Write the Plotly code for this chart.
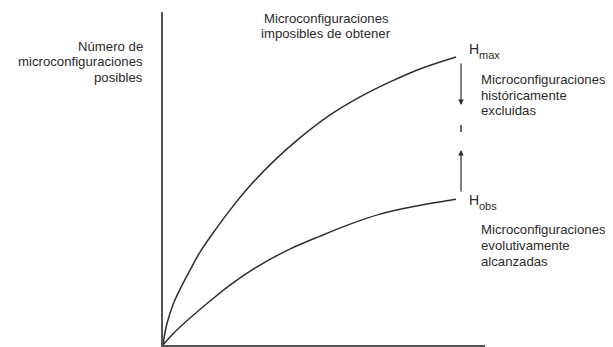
import plotly.graph_objects as go

# Data (arbitrary units, 0-100 on both axes)
x_max = [0, 0.9, 2.2, 3.7, 5.3, 8.4, 11.5, 16.2, 20.8, 27.0, 34.8, 42.5, 51.9, 61.2, 70.5, 79.8, 91.0]
y_max = [0, 5.1, 9.6, 13.5, 16.8, 22.5, 27.9, 34.5, 40.5, 47.8, 55.6, 62.2, 69.1, 74.5, 79.0, 82.9, 86.5]
x_obs = [0, 2.2, 4.3, 8.4, 14.6, 20.8, 30.1, 39.4, 48.8, 58.1, 67.4, 76.7, 91.0]
y_obs = [0, 2.4, 4.5, 8.1, 13.2, 18.0, 24.0, 28.8, 32.7, 36.3, 39.3, 41.4, 43.8]

OFF = 8  # page body margin
W, H = 613 - OFF, 347 - OFF
L, R, T, B = 163 - OFF, 485 - OFF, 12 - OFF, 345 - OFF

def px(x):
    return (x - OFF - L) / (R - L)

def py(y):
    return (B - (y - OFF)) / (B - T)

fig = go.Figure()
line_col = "#2e2e2e"
fig.add_trace(go.Scatter(x=x_max, y=y_max, mode="lines", line=dict(color=line_col, width=1.5, shape="spline"), hoverinfo="skip"))
fig.add_trace(go.Scatter(x=x_obs, y=y_obs, mode="lines", line=dict(color=line_col, width=1.5, shape="spline"), hoverinfo="skip"))

txt = "#2b2b2b"
FAM = "Liberation Sans, Arial, sans-serif"
font = dict(family=FAM, size=13.2, color=txt)
ann = []

def text_block(lines, x, ys, anchor):
    for t, y in zip(lines, ys):
        ann.append(dict(xref="paper", yref="paper", x=px(x), y=py(y), text=t, showarrow=False,
                        xanchor=anchor, yanchor="middle", font=font))

text_block(["Microconfiguraciones", "imposibles de obtener"], 326, [19, 34], "center")
text_block(["Número de", "microconfiguraciones", "posibles"], 145, [46, 62, 78], "right")
text_block(["Microconfiguraciones", "históricamente", "excluidas"], 479, [80, 95, 111], "left")
text_block(["Microconfiguraciones", "evolutivamente", "alcanzadas"], 479, [229, 245, 261], "left")

def hlabel(sub, y):
    ann.append(dict(xref="paper", yref="paper", x=px(467), y=py(y), text="H", showarrow=False,
                    xanchor="left", yanchor="middle", font=dict(family=FAM, size=14, color=txt)))
    ann.append(dict(xref="paper", yref="paper", x=px(477), y=py(y + 6), text=sub, showarrow=False,
                    xanchor="left", yanchor="middle", font=dict(family=FAM, size=11, color=txt)))

hlabel("max", 49)
hlabel("obs", 200)

# arrows
ann.append(dict(xref="paper", yref="paper", x=px(461), y=py(105), ax=0, ay=-43, text="",
                showarrow=True, arrowhead=2, arrowsize=0.9, arrowwidth=1.2, arrowcolor=txt))
ann.append(dict(xref="paper", yref="paper", x=px(461), y=py(150), ax=0, ay=43, text="",
                showarrow=True, arrowhead=2, arrowsize=0.9, arrowwidth=1.2, arrowcolor=txt))
fig.update_layout(annotations=ann)

shapes = [
    dict(type="line", xref="paper", yref="paper", x0=px(461), x1=px(461), y0=py(125), y1=py(132),
         line=dict(color=txt, width=1.4)),
]
fig.update_layout(shapes=shapes)

fig.update_xaxes(range=[0, 100], showgrid=False, zeroline=False, showticklabels=False, ticks="",
                 showline=True, linecolor="#555555", linewidth=2)
fig.update_yaxes(range=[0, 100], showgrid=False, zeroline=False, showticklabels=False, ticks="",
                 showline=True, linecolor="#555555", linewidth=2)
fig.update_layout(width=W, height=H, margin=dict(l=L, r=W - R, t=T, b=H - B),
                  plot_bgcolor="white", paper_bgcolor="white", showlegend=False)
fig.write_html("out.html")
